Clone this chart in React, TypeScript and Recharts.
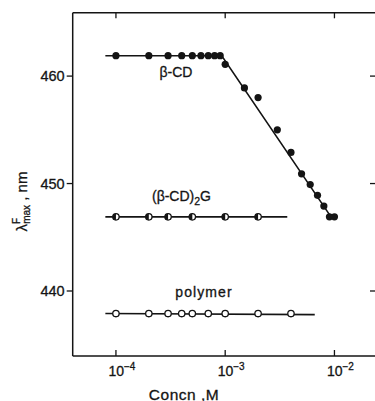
import React from "react";
import { ComposedChart, Scatter, XAxis, YAxis, ReferenceDot } from "recharts";

// ---- data (concentration in M, emission maximum in nm) ----
const betaCDConc = [1e-4, 2e-4, 3e-4, 4e-4, 5e-4, 6e-4, 7e-4, 8e-4, 9e-4, 1e-3, 1.5e-3, 2e-3, 3e-3, 4e-3, 5e-3, 6e-3, 7e-3, 8e-3, 9e-3, 1e-2];
const betaCDLambda = [461.9, 461.9, 461.9, 461.9, 461.9, 461.9, 461.9, 461.9, 461.9, 461.1, 458.9, 458.0, 455.0, 452.9, 450.9, 449.9, 448.9, 447.9, 446.9, 446.9];
const betaCDFitConc = [8e-5, 9.3e-4, 9.3e-3];
const betaCDFitLambda = [461.9, 461.9, 446.9];

const complexConc = [1e-4, 2e-4, 3e-4, 5e-4, 1e-3, 2e-3];
const complexLambda = [446.9, 446.9, 446.9, 446.9, 446.9, 446.9];
const complexFitConc = [8e-5, 3.7e-3];
const complexFitLambda = [446.9, 446.9];

const polymerConc = [1e-4, 2e-4, 3e-4, 4e-4, 5e-4, 7e-4, 1e-3, 2e-3, 4e-3];
const polymerLambda = [437.9, 437.9, 437.9, 437.9, 437.9, 437.9, 437.9, 437.9, 437.9];
const polymerFitConc = [8e-5, 6.6e-3];
const polymerFitLambda = [437.9, 437.8];

const xTicks = [1e-4, 1e-3, 1e-2];
const xTickExponents = ["-4", "-3", "-2"];
const yTicks = [440, 450, 460];
const xDomain = [4.02e-5, 2.478e-2];
const yDomain = [433.95, 465.9];

const seriesLabelConc = [3.54e-4, 3.98e-4, 6.4e-4];
const seriesLabelLambda = [459.9, 448.37, 439.44];

const FONT = "'Liberation Sans', Arial, Helvetica, sans-serif";
const INK = "#141414";

const zip = (xs: number[], ys: number[]) => xs.map((x, i) => ({ x, y: ys[i] }));

const betaCD = zip(betaCDConc, betaCDLambda);
const betaCDFit = zip(betaCDFitConc, betaCDFitLambda);
const complex = zip(complexConc, complexLambda);
const complexFit = zip(complexFitConc, complexFitLambda);
const polymer = zip(polymerConc, polymerLambda);
const polymerFit = zip(polymerFitConc, polymerFitLambda);

const NoShape = () => <g />;

const FilledDot = (p: any) => <circle cx={p.cx} cy={p.cy} r={3.6} fill={INK} stroke="none" />;
const OpenDot = (p: any) => (
  <circle cx={p.cx} cy={p.cy} r={3.2} fill="#fff" stroke={INK} strokeWidth={1.3} />
);
const HalfDot = (p: any) => {
  const r = 3.2;
  return (
    <g>
      <circle cx={p.cx} cy={p.cy} r={r} fill="#fff" stroke={INK} strokeWidth={1.3} />
      <path d={`M ${p.cx} ${p.cy - r} A ${r} ${r} 0 0 0 ${p.cx} ${p.cy + r} Z`} fill={INK} />
    </g>
  );
};

const heavy = { stroke: INK, strokeWidth: 0.3 };

const BottomTick = (p: any) => {
  const i = xTicks.indexOf(p.payload.value);
  return (
    <g>
      <line x1={p.x} y1={p.y} x2={p.x} y2={p.y - 6} stroke={INK} strokeWidth={1.3} />
      <text x={p.x - 7.5} y={p.y + 19.5} fontFamily={FONT} fontSize={14} fill={INK} textAnchor="start" {...heavy}>
        10
        <tspan fontSize={10} dy={-6}>{"\u2212" + xTickExponents[i].slice(1)}</tspan>
      </text>
    </g>
  );
};
const TopTick = (p: any) => (
  <line x1={p.x} y1={p.y} x2={p.x} y2={p.y + 5.6} stroke={INK} strokeWidth={1.3} />
);
const RightTick = (p: any) => (
  <line x1={p.x - 7.5} y1={p.y} x2={p.x} y2={p.y} stroke={INK} strokeWidth={1.3} />
);

const XLabel = () => (
  <text x={184} y={399.5} textAnchor="middle" fontFamily={FONT} fontSize={15.5} fill={INK} letterSpacing={0.5} {...heavy}>
    Concn ,M
  </text>
);
const YLabel = () => (
  <text transform="translate(26.5, 201.5) rotate(-90)" textAnchor="middle" fontFamily={FONT} fontSize={15} fill={INK} {...heavy}>
    λ
    <tspan fontSize={10} dy={-7}>F</tspan>
    <tspan fontSize={10} dx={-6.1} dy={10}>max</tspan>
    <tspan dy={-3}> , nm</tspan>
  </text>
);

const labelStyle = { fontFamily: FONT, fontSize: 14, fill: INK, ...heavy } as const;
const SeriesLabel0 = (p: any) => (
  <text x={p.cx} y={p.cy} textAnchor="middle" {...labelStyle}>β-CD</text>
);
const SeriesLabel1 = (p: any) => (
  <text x={p.cx} y={p.cy} textAnchor="middle" {...labelStyle}>
    (β-CD)<tspan fontSize={10.5} dy={3.5}>2</tspan><tspan dy={-3.5}>G</tspan>
  </text>
);
const SeriesLabel2 = (p: any) => (
  <text x={p.cx} y={p.cy} textAnchor="middle" {...labelStyle} letterSpacing={1.1}>polymer</text>
);
const seriesLabelShapes = [SeriesLabel0, SeriesLabel1, SeriesLabel2];

const lineStyle = { stroke: INK, strokeWidth: 1.6 };
const axisLineStyle = { stroke: INK, strokeWidth: 1.5 };

export default function App() {
  return (
    <div style={{ position: "absolute", left: 0, top: 0, width: 375, height: 401, overflow: "hidden", background: "#fff" }}>
      <ComposedChart
        width={380}
        height={401}
        margin={{ top: 11.7, right: 1.5, bottom: 44, left: 71.7 }}
      >
        <XAxis
          xAxisId="b"
          dataKey="x"
          type="number"
          scale="log"
          domain={xDomain}
          allowDataOverflow
          ticks={xTicks}
          height={1}
          tickSize={0}
          tickMargin={0}
          tickLine={false}
          axisLine={axisLineStyle}
          tick={BottomTick}
          interval={0}
          label={{ content: XLabel }}
        />
        <XAxis
          xAxisId="t"
          orientation="top"
          dataKey="x"
          type="number"
          scale="log"
          domain={xDomain}
          allowDataOverflow
          ticks={xTicks}
          height={1}
          tickSize={0}
          tickMargin={0}
          tickLine={false}
          axisLine={axisLineStyle}
          tick={TopTick}
          interval={0}
        />
        <YAxis
          yAxisId="l"
          dataKey="y"
          type="number"
          domain={yDomain}
          allowDataOverflow
          ticks={yTicks}
          width={1}
          tickSize={6}
          tickMargin={2}
          tickLine={{ stroke: INK, strokeWidth: 1.3 }}
          axisLine={axisLineStyle}
          tick={{ fontFamily: FONT, fontSize: 14.5, fill: INK, stroke: INK, strokeWidth: 0.3 }}
          interval={0}
          label={{ content: YLabel }}
        />
        <YAxis
          yAxisId="r"
          orientation="right"
          dataKey="y"
          type="number"
          domain={yDomain}
          allowDataOverflow
          ticks={yTicks}
          width={1}
          tickSize={0}
          tickMargin={0}
          tickLine={false}
          axisLine={axisLineStyle}
          tick={RightTick}
          interval={0}
        />

        <Scatter xAxisId="b" yAxisId="l" data={betaCDFit} line={lineStyle} shape={NoShape} isAnimationActive={false} />
        <Scatter xAxisId="b" yAxisId="l" data={complexFit} line={lineStyle} shape={NoShape} isAnimationActive={false} />
        <Scatter xAxisId="b" yAxisId="l" data={polymerFit} line={lineStyle} shape={NoShape} isAnimationActive={false} />

        <Scatter xAxisId="b" yAxisId="l" data={betaCD} shape={FilledDot} isAnimationActive={false} />
        <Scatter xAxisId="b" yAxisId="l" data={complex} shape={HalfDot} isAnimationActive={false} />
        <Scatter xAxisId="b" yAxisId="l" data={polymer} shape={OpenDot} isAnimationActive={false} />

        {seriesLabelConc.map((c, i) => (
          <ReferenceDot
            key={i}
            xAxisId="b"
            yAxisId="l"
            x={c}
            y={seriesLabelLambda[i]}
            r={0}
            shape={seriesLabelShapes[i]}
          />
        ))}
      </ComposedChart>
    </div>
  );
}
